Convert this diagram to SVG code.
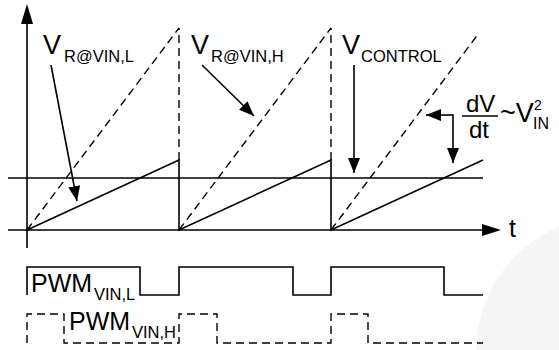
<svg xmlns="http://www.w3.org/2000/svg" width="559" height="350" viewBox="0 0 559 350">
<style>
.ln{stroke:#000;stroke-width:1.6;fill:none}
.ds{stroke:#000;stroke-width:1.4;fill:none;stroke-dasharray:8 5}
.tx{font-family:"Liberation Sans",Arial,sans-serif;fill:#000}
.big{font-size:27px}
.sub{font-size:16.5px}
</style>
<defs>
<marker id="ah" markerUnits="userSpaceOnUse" markerWidth="15" markerHeight="12" refX="15" refY="6" orient="auto">
<path d="M0,0 L15,6 L0,12 z" fill="#000"/>
</marker>
</defs>
<rect width="559" height="350" fill="#fff"/>
<circle cx="612" cy="352" r="136" fill="#f5f5f5"/>
<g id="axes">
<line class="ln" x1="27" y1="22" x2="27" y2="248"/>
<path d="M27,4 L33,24 L21,24 z" fill="#000"/>
<line class="ln" x1="8" y1="230" x2="484" y2="230"/>
<path d="M501,230 L482,224 L482,236 z" fill="#000"/>
<text class="tx" x="509" y="237" font-size="25">t</text>
</g>
<g id="control-level">
<line class="ln" x1="8" y1="178" x2="483" y2="178"/>
</g>
<g id="ramp-low">
<path class="ln" d="M27,230 L179,160 L179,230 L331,160 L331,230 L483,160"/>
</g>
<g id="ramp-high">
<path class="ds" d="M27,230 L179,28"/>
<path class="ds" d="M179,160 L179,28"/>
<path class="ds" d="M179,230 L331,28"/>
<path class="ds" d="M331,160 L331,28"/>
<path class="ds" d="M331,230 L479,33"/>
</g>
<g id="label-vl">
<text class="tx big" x="43" y="54">V</text>
<text class="tx sub" x="64" y="62">R@VIN,L</text>
</g>
<g id="label-vh">
<text class="tx big" x="191" y="54">V</text>
<text class="tx sub" x="211" y="62">R@VIN,H</text>
</g>
<g id="label-vc">
<text class="tx big" x="342" y="54">V</text>
<text class="tx sub" x="361" y="62">CONTROL</text>
</g>
<g id="label-slope">
<text class="tx" font-size="24" x="466" y="112">dV</text>
<line class="ln" x1="462" y1="116" x2="498" y2="116"/>
<text class="tx" font-size="24" x="469" y="138">dt</text>
<text class="tx" font-size="27" x="500" y="122">~V</text>
<text class="tx" font-size="14" x="534" y="110">2</text>
<text class="tx" font-size="16" x="533" y="129">IN</text>
</g>
<g id="connectors">
<line class="ln" x1="51" y1="65" x2="77" y2="201" marker-end="url(#ah)"/>
<line class="ln" x1="202" y1="65" x2="254" y2="116" marker-end="url(#ah)"/>
<line class="ln" x1="354" y1="65" x2="354" y2="173" marker-end="url(#ah)"/>
<line class="ln" x1="453" y1="115" x2="426" y2="115" marker-end="url(#ah)"/>
<line class="ln" x1="453" y1="114.2" x2="453" y2="163" marker-end="url(#ah)"/>
</g>
<g id="pwm-low">
<path class="ln" d="M27,295 L27,267 L140,267 L140,295 L179,295 L179,267 L293,267 L293,295 L331,295 L331,267 L444,267 L444,295 L483,295"/>
<text class="tx" font-size="25" x="31" y="292">PWM</text>
<text class="tx sub" x="94" y="300">VIN,L</text>
</g>
<g id="pwm-high">
<path class="ds" d="M27,343 L27,314 L64,314 L64,343 L179,343 L179,314 L217,314 L217,343 L331,343 L331,314 L368,314 L368,343 L483,343"/>
<text class="tx" font-size="25" x="69" y="330">PWM</text>
<text class="tx sub" x="132" y="338">VIN,H</text>
</g>
</svg>
